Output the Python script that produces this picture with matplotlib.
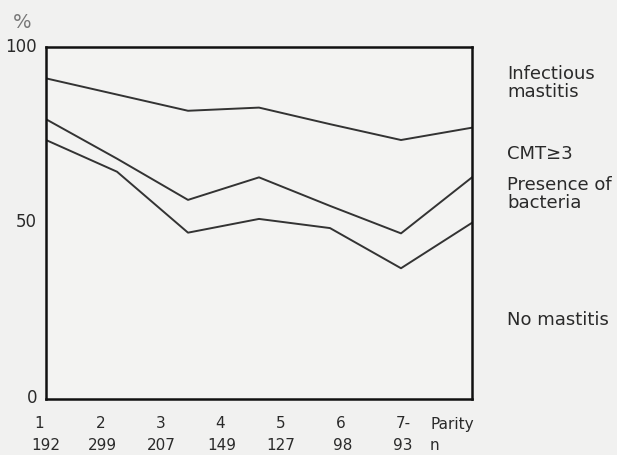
import matplotlib
matplotlib.use("Agg")
import matplotlib.pyplot as plt

parity = [1, 2, 3, 4, 5, 6, 7]
parity_labels = ["1", "2", "3", "4", "5", "6", "7-"]
n_values = ["192", "299", "207", "149", "127", "98", "93"]

infectious_mastitis = [91.1, 86.5, 81.9, 82.8, 78.1, 73.6, 77.1]
cmt_ge3 = [79.5, 68.3, 56.6, 63.0, 54.9, 47.1, 63.0]
presence_bacteria = [73.6, 64.6, 47.3, 51.2, 48.6, 37.2, 50.1]

W, H = 617, 455
fig = plt.figure(figsize=(W / 100, H / 100), dpi=100, facecolor="#f1f1f0")
ax = fig.add_axes([46 / W, 1 - 399.3 / H, (472 - 46) / W, (399.3 - 47) / H])
ax.set_facecolor("#f3f3f2")

line_kw = dict(color="#333333", lw=1.4)
ax.plot(parity, infectious_mastitis, **line_kw)
ax.plot(parity, cmt_ge3, **line_kw)
ax.plot(parity, presence_bacteria, **line_kw)

ax.set_xlim(1, 7)
ax.set_ylim(0, 100)
for s in ax.spines.values():
    s.set_linewidth(1.8)
    s.set_color("#111111")
ax.set_xticks([])
ax.set_yticks([])

txt = dict(color="#2a2a2a", fontsize=11, family="DejaVu Sans")
rtxt = dict(color="#2a2a2a", fontsize=13, family="DejaVu Sans")

def px(x, y):
    return x / W, 1 - y / H

# y tick labels
for val, ypix in [("100", 47), ("50", 222), ("0", 398)]:
    fig.text(*px(37, ypix), val, ha="right", va="center", fontsize=12,
             color="#2a2a2a", family="DejaVu Sans")
fig.text(*px(22, 22), "%", ha="center", va="center", color="#777777", fontsize=14)

# x labels (offset positions as in original)
label_x = [39, 101, 161, 220, 281, 341, 403]
n_x = [46, 102, 161, 222, 281, 343, 403]
for lx, lab in zip(label_x, parity_labels):
    fig.text(*px(lx, 424), lab, ha="center", va="center", **txt)
for nx, lab in zip(n_x, n_values):
    fig.text(*px(nx, 446), lab, ha="center", va="center", **txt)
fig.text(*px(430, 424), "Parity", ha="left", va="center", **txt)
fig.text(*px(430, 446), "n", ha="left", va="center", **txt)

# right side labels
fig.text(*px(507, 83), "Infectious\nmastitis", ha="left", va="center", linespacing=0.95, **rtxt)
fig.text(*px(507, 154), "CMT\u22653", ha="left", va="center", **rtxt)
fig.text(*px(507, 194), "Presence of\nbacteria", ha="left", va="center", linespacing=0.95, **rtxt)
fig.text(*px(507, 320), "No mastitis", ha="left", va="center", **rtxt)

fig.savefig("out.png", dpi=100, facecolor=fig.get_facecolor())
